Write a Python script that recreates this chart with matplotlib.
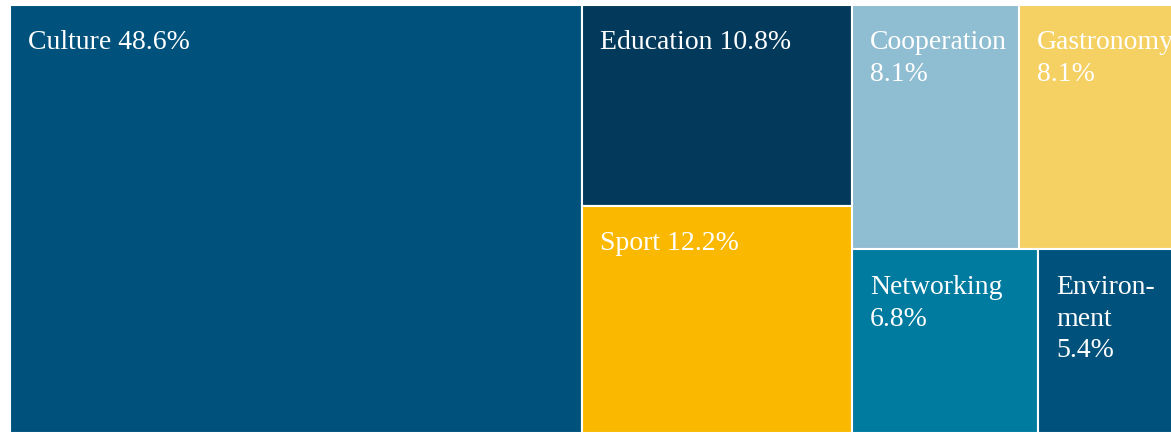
import matplotlib
matplotlib.use("Agg")
import matplotlib.pyplot as plt
from matplotlib.patches import Rectangle

# data
labels = ["Culture", "Education", "Sport", "Cooperation", "Gastronomy", "Networking", "Environment"]
shares = [48.6, 10.8, 12.2, 8.1, 8.1, 6.8, 5.4]
label_text = ["Culture 48.6%", "Education 10.8%", "Sport 12.2%", "Cooperation\n8.1%",
              "Gastronomy\n8.1%", "Networking\n6.8%", "Environ-\nment\n5.4%"]
colors = ["#00527c", "#03395b", "#fab900", "#8fbdd1", "#f5d062", "#007ba0", "#00527c"]

# treemap grouping: columns -> rows -> cells (indices into labels)
layout = [
    [[0]],
    [[1], [2]],
    [[3, 4], [5, 6]],
]

W_PX, H_PX = 1171, 433
fig = plt.figure(figsize=(W_PX / 100, H_PX / 100), dpi=100)
# chart runs past the right edge, as in the original
ax = fig.add_axes([10 / W_PX, 0, 1176 / W_PX, 428 / H_PX])
ax.set_xlim(0, 100)
ax.set_ylim(100, 0)
ax.axis("off")

total = sum(shares)
x = 0.0
for col in layout:
    col_sum = sum(shares[i] for row in col for i in row)
    col_w = 100 * col_sum / total
    y = 0.0
    for row in col:
        row_sum = sum(shares[i] for i in row)
        row_h = 100 * row_sum / col_sum
        cx = x
        for i in row:
            cw = col_w * shares[i] / row_sum
            ax.add_patch(Rectangle((cx, y), cw, row_h, facecolor=colors[i],
                                   edgecolor="white", linewidth=1.5))
            # one line at a time, 32 px apart
            for k, line in enumerate(label_text[i].split("\n")):
                ax.annotate(line, xy=(cx, y), xytext=(13, -32 - 23 * k),
                            textcoords="offset points", ha="left", va="baseline",
                            color="white", fontsize=20, family="Liberation Serif",
                            annotation_clip=False)
            cx += cw
        y += row_h
    x += col_w

fig.savefig("out.png", dpi=100)
